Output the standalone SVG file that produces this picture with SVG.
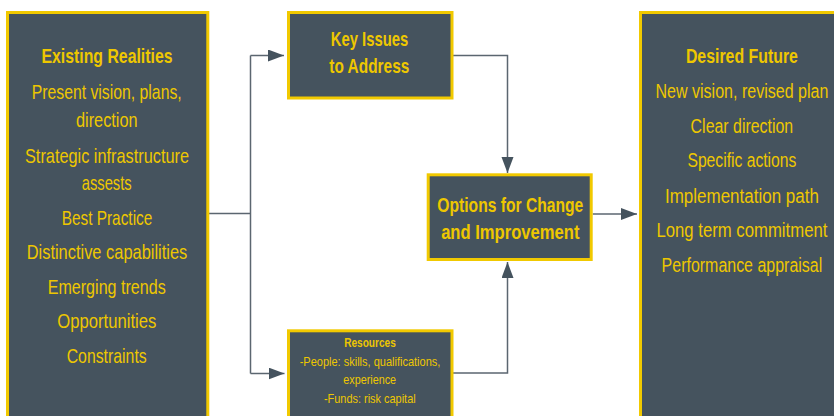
<svg xmlns="http://www.w3.org/2000/svg" width="834" height="416" viewBox="0 0 834 416">
<style>
.box{fill:#45535e;stroke:#f1c900;stroke-width:3}
.t{font-family:"Liberation Sans",Arial,sans-serif;fill:#eec700;text-anchor:middle;font-size:21px}
.b{font-weight:bold}
.s{font-size:13px}
.c{fill:none;stroke:#5b6670;stroke-width:1.5}
</style>
<defs>
<marker id="ah" markerUnits="userSpaceOnUse" markerWidth="17" markerHeight="13" refX="16" refY="6" orient="auto">
<path d="M0,0 L16,6 L0,12 z" fill="#45535e"/>
</marker>
</defs>
<rect width="834" height="416" fill="#ffffff"/>
<g id="connectors">
<path class="c" d="M208 213.5 H250.5"/>
<path class="c" d="M250.5 55.5 V373.5"/>
<path class="c" d="M250.5 55.5 H284" marker-end="url(#ah)"/>
<path class="c" d="M250.5 373.5 H284.5" marker-end="url(#ah)"/>
<path class="c" d="M453 55.5 H507.5 V173" marker-end="url(#ah)"/>
<path class="c" d="M453 373 H507.5 V262" marker-end="url(#ah)"/>
<path class="c" d="M592.7 214 H637" marker-end="url(#ah)"/>
</g>
<g id="existing-realities">
<rect class="box" x="7.5" y="12.5" width="200.3" height="405"/>
<text class="t b" x="107" y="63.3" textLength="131" lengthAdjust="spacingAndGlyphs">Existing Realities</text>
<text class="t" x="106.7" y="99" textLength="150" lengthAdjust="spacingAndGlyphs">Present vision, plans,</text>
<text class="t" x="106.8" y="127" textLength="61.7" lengthAdjust="spacingAndGlyphs">direction</text>
<text class="t" x="107" y="162.7" textLength="164" lengthAdjust="spacingAndGlyphs">Strategic infrastructure</text>
<text class="t" x="106.7" y="190" textLength="50" lengthAdjust="spacingAndGlyphs">assests</text>
<text class="t" x="107" y="225" textLength="90.6" lengthAdjust="spacingAndGlyphs">Best Practice</text>
<text class="t" x="107" y="259" textLength="160.6" lengthAdjust="spacingAndGlyphs">Distinctive capabilities</text>
<text class="t" x="106.7" y="294.3" textLength="118" lengthAdjust="spacingAndGlyphs">Emerging trends</text>
<text class="t" x="106.8" y="328.3" textLength="99" lengthAdjust="spacingAndGlyphs">Opportunities</text>
<text class="t" x="106.7" y="363.3" textLength="80" lengthAdjust="spacingAndGlyphs">Constraints</text>
</g>
<g id="key-issues">
<rect class="box" x="288.5" y="12.5" width="163.5" height="85.5"/>
<text class="t b" x="369.5" y="45.7" textLength="77.6" lengthAdjust="spacingAndGlyphs">Key Issues</text>
<text class="t b" x="369.3" y="72.7" textLength="80" lengthAdjust="spacingAndGlyphs">to Address</text>
</g>
<g id="options">
<rect class="box" x="428.2" y="174.8" width="163" height="84.7"/>
<text class="t b" x="510.3" y="212.3" textLength="146" lengthAdjust="spacingAndGlyphs">Options for Change</text>
<text class="t b" x="510.3" y="239.3" textLength="138.3" lengthAdjust="spacingAndGlyphs">and Improvement</text>
</g>
<g id="resources">
<rect class="box" x="288.5" y="330.8" width="163.5" height="86.7"/>
<text class="t s b" x="370" y="347.3" textLength="51.7" lengthAdjust="spacingAndGlyphs">Resources</text>
<text class="t s" x="370" y="366" textLength="140.7" lengthAdjust="spacingAndGlyphs">-People: skills, qualifications,</text>
<text class="t s" x="369.7" y="384" textLength="52.7" lengthAdjust="spacingAndGlyphs">experience</text>
<text class="t s" x="369.8" y="402.7" textLength="91.7" lengthAdjust="spacingAndGlyphs">-Funds: risk capital</text>
</g>
<g id="desired-future">
<rect class="box" x="640.5" y="12.5" width="195" height="405"/>
<g transform="translate(741.9,0) scale(0.78,1)">
<text class="t b" x="0" y="63.3" textLength="143.6" lengthAdjust="spacingAndGlyphs">Desired Future</text>
<text class="t" x="0" y="98.3" textLength="221.8" lengthAdjust="spacingAndGlyphs">New vision, revised plan</text>
<text class="t" x="0" y="133.3" textLength="131.5" lengthAdjust="spacingAndGlyphs">Clear direction</text>
<text class="t" x="0" y="167.5" textLength="139.7" lengthAdjust="spacingAndGlyphs">Specific actions</text>
<text class="t" x="0" y="202.7" textLength="197.4" lengthAdjust="spacingAndGlyphs">Implementation path</text>
<text class="t" x="0" y="237.3" textLength="219.2" lengthAdjust="spacingAndGlyphs">Long term commitment</text>
<text class="t" x="0" y="271.7" textLength="205.9" lengthAdjust="spacingAndGlyphs">Performance appraisal</text>
</g>
</g>
</svg>
